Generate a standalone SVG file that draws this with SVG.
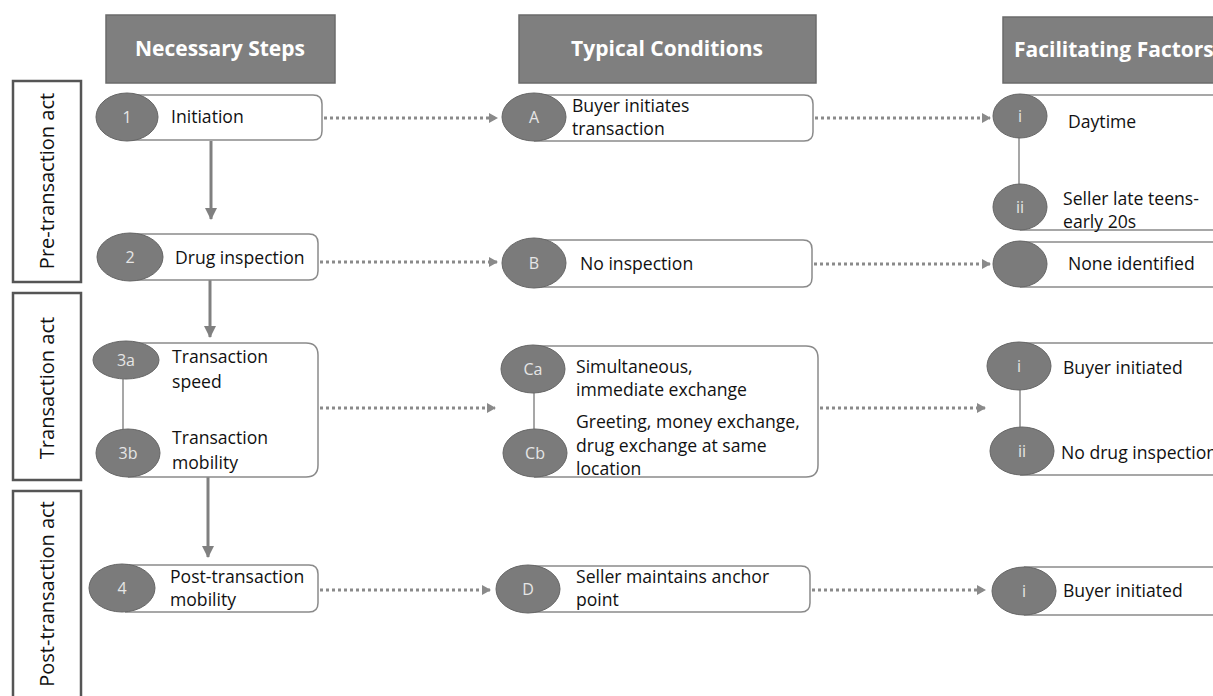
<svg xmlns="http://www.w3.org/2000/svg" width="1213" height="696" viewBox="0 0 1213 696">
<style>
.hdr{fill:#7f7f7f;stroke:#6b6b6b;stroke-width:1.5}
.htx{font-family:"Open Sans",sans-serif;font-weight:700;font-size:21px;fill:#fff}
.side{fill:#fff;stroke:#555;stroke-width:2.5}
.stx{font-family:"Open Sans",sans-serif;font-size:20px;fill:#111;text-anchor:middle}
.box{fill:#fff;stroke:#8a8a8a;stroke-width:1.5}
.ell{fill:#7b7b7b;stroke:#666;stroke-width:1}
.etx{font-family:"Open Sans",sans-serif;font-size:16px;fill:#e6e6e6;text-anchor:middle}
.ntx{font-family:"Open Sans",sans-serif;font-size:17.6px;fill:#111}
.link{stroke:#8a8a8a;stroke-width:1.5}
.dot{stroke:#8a8a8a;stroke-width:3;stroke-dasharray:3 3;fill:none}
.solid{stroke:#808080;stroke-width:3;fill:none}
</style>
<defs>
<marker id="ah" markerWidth="10" markerHeight="10" refX="8" refY="5" orient="auto" markerUnits="userSpaceOnUse">
<path d="M0,0 L9,5 L0,10 Z" fill="#8a8a8a"/>
</marker>
<marker id="ahs" markerWidth="14" markerHeight="14" refX="11" refY="6" orient="auto" markerUnits="userSpaceOnUse">
<path d="M0,0 L12,6 L0,12 Z" fill="#808080"/>
</marker>
</defs>
<rect width="1213" height="696" fill="#fff"/>

<g id="headers">
<rect class="hdr" x="106" y="15" width="229" height="68"/>
<text class="htx" x="220" y="56" text-anchor="middle">Necessary Steps</text>
<rect class="hdr" x="519" y="15" width="297" height="68"/>
<text class="htx" x="667" y="56" text-anchor="middle">Typical Conditions</text>
<rect class="hdr" x="1003" y="17" width="230" height="66"/>
<text class="htx" x="1014" y="57">Facilitating Factors</text>
</g>

<g id="phases">
<rect class="side" x="13" y="81" width="68" height="201"/>
<text class="stx" transform="translate(54,181) rotate(-90)">Pre-transaction act</text>
<rect class="side" x="13" y="293" width="68" height="187"/>
<text class="stx" transform="translate(54,388) rotate(-90)">Transaction act</text>
<rect class="side" x="13" y="491" width="68" height="220"/>
<text class="stx" transform="translate(54,594) rotate(-90)">Post-transaction act</text>
</g>

<g id="connectors">
<path class="solid" d="M211,141 V219" marker-end="url(#ahs)"/>
<path class="solid" d="M210,280 V337" marker-end="url(#ahs)"/>
<path class="solid" d="M208,477 V557" marker-end="url(#ahs)"/>
<path class="dot" d="M324,118 H497" marker-end="url(#ah)"/>
<path class="dot" d="M815,118 H990" marker-end="url(#ah)"/>
<path class="dot" d="M320,262 H497" marker-end="url(#ah)"/>
<path class="dot" d="M814,264 H990" marker-end="url(#ah)"/>
<path class="dot" d="M320,408 H495" marker-end="url(#ah)"/>
<path class="dot" d="M820,408 H985" marker-end="url(#ah)"/>
<path class="dot" d="M320,590 H490" marker-end="url(#ah)"/>
<path class="dot" d="M812,590 H985" marker-end="url(#ah)"/>
</g>

<g id="n1">
<path class="box" d="M127,95 H313 Q322,95 322,104 V131 Q322,140 313,140 H127"/>
<ellipse class="ell" cx="127" cy="117" rx="31" ry="24"/>
<text class="etx" x="127" y="123">1</text>
<text class="ntx" x="171" y="123">Initiation</text>
</g>
<g id="n2">
<path class="box" d="M130,234 H309 Q318,234 318,243 V271 Q318,280 309,280 H130"/>
<ellipse class="ell" cx="130" cy="257" rx="33" ry="24"/>
<text class="etx" x="130" y="263">2</text>
<text class="ntx" x="175" y="264">Drug inspection</text>
</g>
<g id="n3">
<path class="box" d="M128,343 H306 Q318,343 318,355 V465 Q318,477 306,477 H128"/>
<line class="link" x1="123" y1="379" x2="123" y2="429"/>
<ellipse class="ell" cx="126" cy="360" rx="33" ry="19"/>
<text class="etx" x="126" y="366">3a</text>
<ellipse class="ell" cx="128" cy="453" rx="32" ry="24"/>
<text class="etx" x="128" y="459">3b</text>
<text class="ntx" x="172" y="363">Transaction</text>
<text class="ntx" x="172" y="388">speed</text>
<text class="ntx" x="172" y="444">Transaction</text>
<text class="ntx" x="172" y="469">mobility</text>
</g>
<g id="n4">
<path class="box" d="M125,565 H309 Q318,565 318,574 V603 Q318,612 309,612 H125"/>
<ellipse class="ell" cx="122" cy="588" rx="33" ry="24"/>
<text class="etx" x="122" y="594">4</text>
<text class="ntx" x="170" y="583">Post-transaction</text>
<text class="ntx" x="170" y="606">mobility</text>
</g>

<g id="nA">
<path class="box" d="M534,95 H804 Q813,95 813,104 V132 Q813,141 804,141 H534"/>
<ellipse class="ell" cx="534" cy="117" rx="32" ry="24"/>
<text class="etx" x="534" y="123">A</text>
<text class="ntx" x="572" y="112">Buyer initiates</text>
<text class="ntx" x="572" y="135">transaction</text>
</g>
<g id="nB">
<path class="box" d="M534,240 H803 Q812,240 812,249 V278 Q812,287 803,287 H534"/>
<ellipse class="ell" cx="534" cy="263" rx="32" ry="25"/>
<text class="etx" x="534" y="269">B</text>
<text class="ntx" x="580" y="270">No inspection</text>
</g>
<g id="nC">
<path class="box" d="M534,346 H806 Q818,346 818,358 V465 Q818,477 806,477 H534"/>
<line class="link" x1="534" y1="393" x2="534" y2="429"/>
<ellipse class="ell" cx="533" cy="369" rx="32" ry="24"/>
<text class="etx" x="533" y="375">Ca</text>
<ellipse class="ell" cx="535" cy="453" rx="32" ry="24"/>
<text class="etx" x="535" y="459">Cb</text>
<text class="ntx" x="576" y="373">Simultaneous,</text>
<text class="ntx" x="576" y="396">immediate exchange</text>
<text class="ntx" x="576" y="428">Greeting, money exchange,</text>
<text class="ntx" x="576" y="452">drug exchange at same</text>
<text class="ntx" x="576" y="475">location</text>
</g>
<g id="nD">
<path class="box" d="M530,566 H801 Q810,566 810,575 V603 Q810,612 801,612 H530"/>
<ellipse class="ell" cx="528" cy="589" rx="32" ry="24"/>
<text class="etx" x="528" y="595">D</text>
<text class="ntx" x="576" y="583">Seller maintains anchor</text>
<text class="ntx" x="576" y="606">point</text>
</g>

<g id="f1">
<path class="box" d="M1020,95 H1240 V230 H1020"/>
<line class="link" x1="1019" y1="138" x2="1019" y2="184"/>
<ellipse class="ell" cx="1020" cy="116" rx="27" ry="22"/>
<text class="etx" x="1020" y="122">i</text>
<ellipse class="ell" cx="1020" cy="207" rx="27" ry="23"/>
<text class="etx" x="1020" y="213">ii</text>
<text class="ntx" x="1068" y="128">Daytime</text>
<text class="ntx" x="1063" y="205">Seller late teens-</text>
<text class="ntx" x="1063" y="228">early 20s</text>
</g>
<g id="f2">
<path class="box" d="M1020,242 H1240 V287 H1020"/>
<ellipse class="ell" cx="1020" cy="264" rx="27" ry="23"/>
<text class="ntx" x="1068" y="270">None identified</text>
</g>
<g id="f3">
<path class="box" d="M1020,343 H1240 V475 H1020"/>
<line class="link" x1="1020" y1="390" x2="1020" y2="428"/>
<ellipse class="ell" cx="1019" cy="366" rx="32" ry="24"/>
<text class="etx" x="1019" y="372">i</text>
<ellipse class="ell" cx="1022" cy="451" rx="32" ry="24"/>
<text class="etx" x="1022" y="457">ii</text>
<text class="ntx" x="1063" y="374">Buyer initiated</text>
<text class="ntx" x="1061" y="459">No drug inspection</text>
</g>
<g id="f4">
<path class="box" d="M1024,567 H1240 V615 H1024"/>
<ellipse class="ell" cx="1024" cy="591" rx="32" ry="24"/>
<text class="etx" x="1024" y="597">i</text>
<text class="ntx" x="1063" y="597">Buyer initiated</text>
</g>
</svg>
